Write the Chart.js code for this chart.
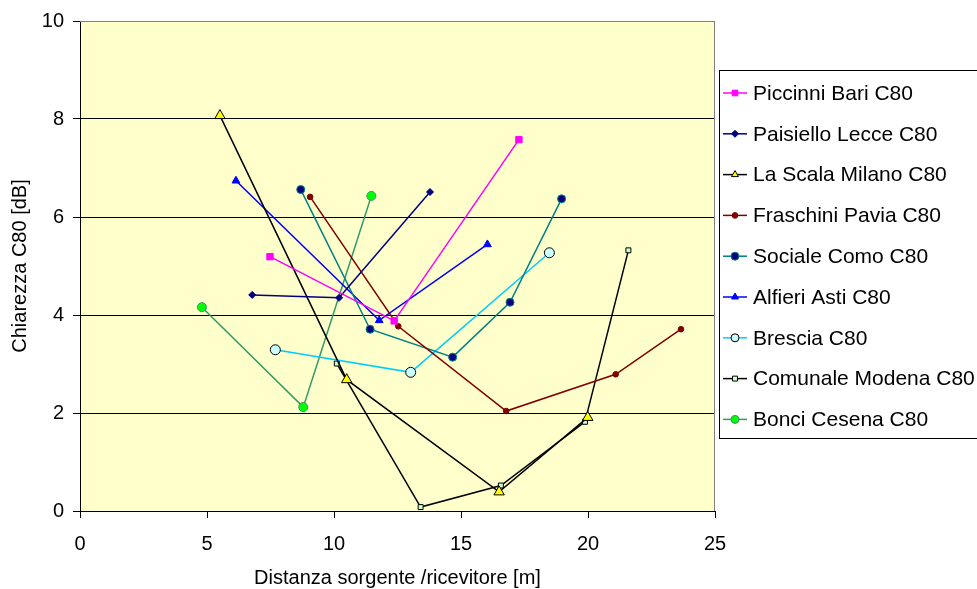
<!DOCTYPE html>
<html>
<head>
<meta charset="utf-8">
<script src="https://cdn.jsdelivr.net/npm/chart.js@4.4.1/dist/chart.umd.min.js"></script>
<style>
  body { margin: 0; background: #fff; }
</style>
</head>
<body>
<canvas id="c80-chart" width="977" height="589"></canvas>
<script>
// values: distance [m] and C80 [dB] per theatre
const piccinniX = [7.48, 12.37, 17.28];
const piccinniY = [5.19, 3.88, 7.58];
const paisielloX = [6.78, 10.20, 13.78];
const paisielloY = [4.41, 4.35, 6.51];
const scalaX = [5.51, 10.50, 16.50, 19.99];
const scalaY = [8.07, 2.68, 0.39, 1.91];
const fraschiniX = [9.06, 12.53, 16.78, 21.09, 23.66];
const fraschiniY = [6.41, 3.77, 2.04, 2.79, 3.71];
const socialeX = [8.69, 11.42, 14.67, 16.93, 18.96];
const socialeY = [6.56, 3.71, 3.14, 4.26, 6.37];
const alfieriX = [6.14, 11.78, 16.04];
const alfieriY = [6.74, 3.89, 5.44];
const bresciaX = [7.69, 13.02, 18.48];
const bresciaY = [3.29, 2.83, 5.27];
const modenaX = [10.11, 13.41, 16.57, 19.88, 21.59];
const modenaY = [3.01, 0.08, 0.52, 1.82, 5.32];
const bonciX = [4.80, 8.79, 11.47];
const bonciY = [4.16, 2.12, 6.43];

const xTicks = [0, 5, 10, 15, 20, 25];
const yTicks = [0, 2, 4, 6, 8, 10];

function pts(xs, ys) {
    return xs.map((x, i) => ({ x: x, y: ys[i] }));
}

const FONT = "'Liberation Sans', Arial, sans-serif";

function series(label, xs, ys, line, style, radius, fill, border) {
    return {
        label: label,
        data: pts(xs, ys),
        showLine: true,
        borderColor: line,
        borderWidth: 1.5,
        pointStyle: style,
        pointRadius: radius,
        pointHoverRadius: radius,
        pointBackgroundColor: fill,
        pointBorderColor: border,
        pointBorderWidth: 1
    };
}

const datasets = [
    series('Piccinni Bari C80', piccinniX, piccinniY, '#FF00FF', 'rect', 4.5, '#FF00FF', '#FF00FF'),
    series('Paisiello Lecce C80', paisielloX, paisielloY, '#000080', 'rectRot', 3.5, '#000080', '#000080'),
    series('La Scala Milano C80', scalaX, scalaY, '#000000', 'triangle', 6, '#FFFF00', '#000000'),
    series('Fraschini Pavia C80', fraschiniX, fraschiniY, '#800000', 'circle', 2.8, '#800000', '#800000'),
    series('Sociale Como C80', socialeX, socialeY, '#008080', 'circle', 4, '#000080', '#008080'),
    series('Alfieri Asti C80', alfieriX, alfieriY, '#0000FF', 'triangle', 4.5, '#0000FF', '#0000FF'),
    series('Brescia C80', bresciaX, bresciaY, '#00CCFF', 'circle', 5, '#CCFFFF', '#000000'),
    series('Comunale Modena C80', modenaX, modenaY, '#000000', 'rect', 3.5, '#CCFFCC', '#000000'),
    series('Bonci Cesena C80', bonciX, bonciY, '#339966', 'circle', 4.5, '#00FF00', '#339966')
];

// yellow plot area with grey frame
const plotArea = {
    id: 'plotArea',
    beforeDraw(chart) {
        const { ctx, chartArea: a } = chart;
        ctx.save();
        ctx.fillStyle = '#FFFFCC';
        ctx.fillRect(a.left, a.top, a.right - a.left, a.bottom - a.top);
        ctx.restore();
    },
    afterDatasetsDraw(chart) {
        const { ctx, chartArea: a } = chart;
        ctx.save();
        ctx.strokeStyle = '#808080';
        ctx.lineWidth = 1;
        ctx.beginPath();
        ctx.moveTo(a.left, a.top + 0.5);
        ctx.lineTo(a.right - 0.5, a.top + 0.5);
        ctx.lineTo(a.right - 0.5, a.bottom);
        ctx.stroke();
        ctx.restore();
    }
};

// boxed legend on the right, line + marker per series
const boxLegend = {
    id: 'boxLegend',
    afterDraw(chart) {
        const ctx = chart.ctx;
        const left = 719, top = 70, bottom = 438, step = 40.8, first = 93;
        ctx.save();
        ctx.fillStyle = '#FFFFFF';
        ctx.fillRect(left, top, 977 - left, bottom - top);
        ctx.strokeStyle = '#000000';
        ctx.lineWidth = 1;
        ctx.strokeRect(left + 0.5, top + 0.5, 990 - left, bottom - top);
        ctx.font = '21px ' + FONT;
        ctx.textBaseline = 'middle';
        chart.data.datasets.forEach((ds, i) => {
            const y = first + i * step;
            ctx.strokeStyle = ds.borderColor;
            ctx.lineWidth = 1.5;
            ctx.beginPath();
            ctx.moveTo(723, y);
            ctx.lineTo(747, y);
            ctx.stroke();
            ctx.fillStyle = ds.pointBackgroundColor;
            ctx.strokeStyle = ds.pointBorderColor;
            ctx.lineWidth = 1;
            Chart.helpers.drawPoint(ctx, {
                pointStyle: ds.pointStyle,
                radius: Math.min(ds.pointRadius, 4),
                rotation: 0,
                borderWidth: 1
            }, 735, y);
            ctx.fillStyle = '#000000';
            ctx.fillText(ds.label, 753, y + 1);
        });
        ctx.restore();
    }
};

new Chart(document.getElementById('c80-chart').getContext('2d'), {
    type: 'scatter',
    data: { datasets: datasets },
    plugins: [plotArea, boxLegend],
    options: {
        responsive: false,
        animation: false,
        layout: { padding: { top: 20, right: 262, left: 0, bottom: 0 } },
        plugins: {
            legend: { display: false },
            tooltip: { enabled: false }
        },
        scales: {
            x: {
                type: 'linear',
                min: 0,
                max: 25,
                afterBuildTicks: s => { s.ticks = xTicks.map(v => ({ value: v })); },
                afterFit: s => { s.height = 78; },
                grid: { drawOnChartArea: false, drawTicks: true, tickLength: 7, color: '#000000' },
                border: { color: '#000000', width: 1 },
                ticks: { color: '#000000', font: { family: FONT, size: 20 }, padding: 14, maxRotation: 0 },
                title: {
                    display: true,
                    text: 'Distanza sorgente /ricevitore [m]',
                    color: '#000000',
                    font: { family: FONT, size: 20, lineHeight: 1.1 },
                    padding: 0
                }
            },
            y: {
                type: 'linear',
                min: 0,
                max: 10,
                afterBuildTicks: s => { s.ticks = yTicks.map(v => ({ value: v })); },
                afterFit: s => { s.width = 80; },
                grid: {
                    color: c => (c.tick && c.tick.value === 10 ? '#808080' : '#000000'),
                    tickColor: '#000000',
                    tickLength: 7,
                    lineWidth: 1
                },
                border: { color: '#000000', width: 1 },
                ticks: { color: '#000000', font: { family: FONT, size: 20 }, padding: 9 },
                title: {
                    display: true,
                    text: 'Chiarezza C80 [dB]',
                    color: '#000000',
                    font: { family: FONT, size: 20, lineHeight: 1.2 },
                    padding: { top: 8, bottom: 0 }
                }
            }
        }
    }
});
</script>
</body>
</html>
